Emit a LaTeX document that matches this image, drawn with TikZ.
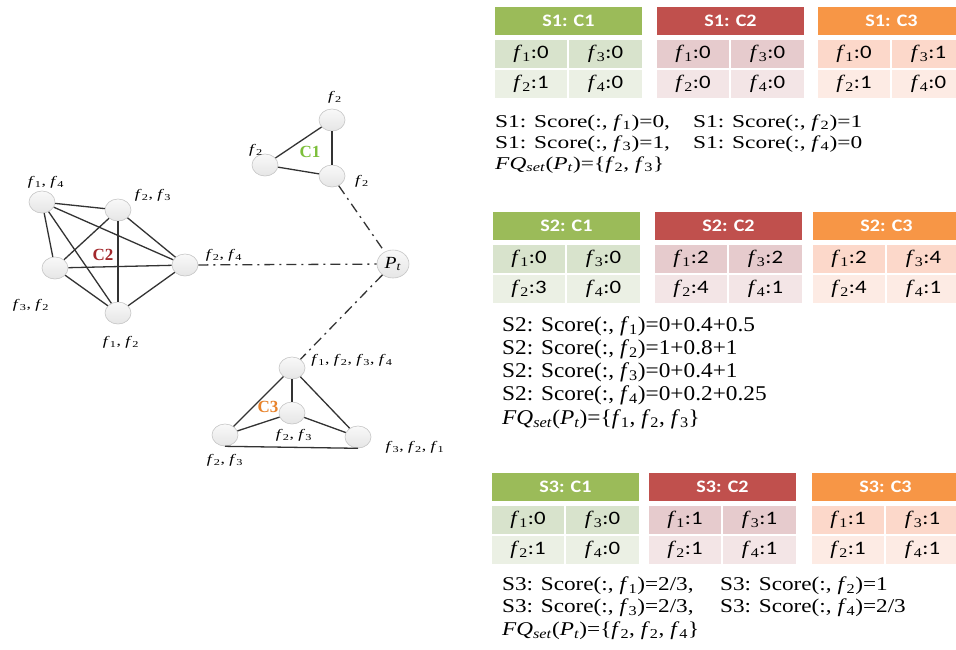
\documentclass[tikz,border=0pt]{standalone}
\usepackage{graphicx}
\usepackage{fontspec}
\setmainfont{Liberation Serif}
\newfontfamily\calfont{Carlito}
\usetikzlibrary{shapes.geometric}
\definecolor{gH}{HTML}{9BBB59}\definecolor{gA}{HTML}{D8E3CC}\definecolor{gB}{HTML}{EBF0E4}
\definecolor{rH}{HTML}{C0504D}\definecolor{rA}{HTML}{E6CBCD}\definecolor{rB}{HTML}{F3E5E6}
\definecolor{oH}{HTML}{F79646}\definecolor{oA}{HTML}{FCD8CA}\definecolor{oB}{HTML}{FDEBE4}
\definecolor{cone}{HTML}{7CBF3A}\definecolor{ctwo}{HTML}{A3282C}\definecolor{cthree}{HTML}{E8822A}
\newcommand\fv[1]{\textit{f}\textsubscript{#1}}
\newcommand\cf[2]{\textit{f}\textsubscript{#1}{\calfont :#2}}
\newcommand\FQ{\textit{FQ}\textsubscript{\textit{set}}(\textit{P}\textsubscript{\textit{t}})}
\newcommand\hs[2]{\scalebox{#1}[1]{#2}}
% name, x, y-top, colour prefix, header, f1, f3, f2, f4
\newcommand\tbl[9]{%
  \node[hdr, fill=#4H] (#1h) at (#2+73.5,#3+14) {\hs{1.15}{#5}};
  \node[cellL, fill=#4A] (#1a) at (#2+36,#3+47) {\hs{1.2}{\cf{1}{#6}}};
  \node[cellR, fill=#4A] (#1b) at (#2+110.5,#3+47) {\hs{1.2}{\cf{3}{#7}}};
  \node[cellL, fill=#4B] (#1c) at (#2+36,#3+77) {\hs{1.2}{\cf{2}{#8}}};
  \node[cellR, fill=#4B] (#1d) at (#2+110.5,#3+77) {\hs{1.2}{\cf{4}{#9}}};
}
\begin{document}
\begin{tikzpicture}[x=1pt,y=-1pt,
  hdr/.style={rectangle, minimum width=147pt, minimum height=28pt, inner sep=0pt, text=white, font=\calfont\bfseries\fontsize{17.5}{20}\selectfont},
  cellL/.style={rectangle, minimum width=72pt, minimum height=28pt, inner sep=0pt, font=\fontsize{19}{20}\selectfont},
  cellR/.style={rectangle, minimum width=73pt, minimum height=28pt, inner sep=0pt, font=\fontsize{19}{20}\selectfont},
  txtA/.style={anchor=base west, inner sep=0pt, font=\fontsize{18}{20}\selectfont},
  txtB/.style={anchor=base west, inner sep=0pt, font=\fontsize{21}{23}\selectfont},
  txtC/.style={anchor=base west, inner sep=0pt, font=\fontsize{19.5}{22}\selectfont},
  vtx/.style={ellipse, draw=gray!45, line width=0.6pt, top color=gray!5, bottom color=gray!20, minimum width=26pt, minimum height=22pt, inner sep=0pt},
  edge/.style={draw=black!80, line width=1.3pt},
  dd/.style={draw=black!80, line width=1.3pt, dash pattern=on 10pt off 5pt on 2pt off 5pt},
  lab/.style={inner sep=0pt, font=\fontsize{13}{15}\selectfont},
  clab/.style={inner sep=0pt, font=\bfseries\fontsize{17}{20}\selectfont}]
\useasboundingbox (0,0) rectangle (956,649);
\clip (0,0) rectangle (956,649);
\fill[white] (0,0) rectangle (956,649);

% ---------- tables ----------
\tbl{sA}{495}{7}{g}{S1: C1}{0}{0}{1}{0}
\tbl{sB}{657}{7}{r}{S1: C2}{0}{0}{0}{0}
\tbl{sC}{818}{7}{o}{S1: C3}{0}{1}{1}{0}
\tbl{tA}{493}{212}{g}{S2: C1}{0}{0}{3}{0}
\tbl{tB}{655}{212}{r}{S2: C2}{2}{2}{4}{1}
\tbl{tC}{813}{212}{o}{S2: C3}{2}{4}{4}{1}
\tbl{uA}{492}{473}{g}{S3: C1}{0}{0}{1}{0}
\tbl{uB}{649}{473}{r}{S3: C2}{1}{1}{1}{1}
\tbl{uC}{812}{473}{o}{S3: C3}{1}{1}{1}{1}

% ---------- score texts ----------
\node[txtA] (s1a) at (495,127) {\hs{1.3}{S1: Score(:, \fv{1})=0,}};
\node[txtA] (s1b) at (693,127) {\hs{1.3}{S1: Score(:, \fv{2})=1}};
\node[txtA] (s1c) at (495,148) {\hs{1.3}{S1: Score(:, \fv{3})=1,}};
\node[txtA] (s1d) at (693,148) {\hs{1.3}{S1: Score(:, \fv{4})=0}};
\node[txtA] (s1e) at (495,169) {\hs{1.3}{\FQ=\{\fv{2}, \fv{3}\}}};

\node[txtB] (s2a) at (502,331) {\hs{1.11}{S2: Score(:, \fv{1})=0+0.4+0.5}};
\node[txtB] (s2b) at (502,354) {\hs{1.11}{S2: Score(:, \fv{2})=1+0.8+1}};
\node[txtB] (s2c) at (502,377) {\hs{1.11}{S2: Score(:, \fv{3})=0+0.4+1}};
\node[txtB] (s2d) at (502,400) {\hs{1.11}{S2: Score(:, \fv{4})=0+0.2+0.25}};
\node[txtB] (s2e) at (502,424) {\hs{1.11}{\FQ=\{\fv{1}, \fv{2}, \fv{3}\}}};

\node[txtC] (s3a) at (502,590) {\hs{1.19}{S3: Score(:, \fv{1})=2/3,}};
\node[txtC] (s3b) at (720,590) {\hs{1.19}{S3: Score(:, \fv{2})=1}};
\node[txtC] (s3c) at (502,612) {\hs{1.19}{S3: Score(:, \fv{3})=2/3,}};
\node[txtC] (s3d) at (720,612) {\hs{1.19}{S3: Score(:, \fv{4})=2/3}};
\node[txtC] (s3e) at (502,635) {\hs{1.19}{\FQ=\{\fv{2}, \fv{2}, \fv{4}\}}};

% ---------- graph: nodes ----------
\node[vtx] (a1) at (332,120) {};
\node[vtx] (a2) at (265,165) {};
\node[vtx] (a3) at (332,176) {};
\node[vtx, minimum width=32pt, minimum height=28pt] (pt) at (393,264) {\fontsize{17}{18}\selectfont\hs{1.15}{\textit{P}\textsubscript{\textit{t}}}};

\node[vtx] (bA) at (42,202) {};
\node[vtx] (bB) at (118,210) {};
\node[vtx] (bC) at (55,268) {};
\node[vtx] (bD) at (185,265) {};
\node[vtx] (bE) at (118,313) {};

\node[vtx] (cT) at (292,368) {};
\node[vtx] (cM) at (292,413) {};
\node[vtx] (cL) at (225,435) {};
\node[vtx] (cR) at (358,437) {};

% ---------- graph: edges ----------
\draw[edge] (a1) -- (a2);
\draw[edge] (a1) -- (a3);
\draw[edge] (a2) -- (a3);

\draw[edge] (bA) -- (bB);
\draw[edge] (bA) -- (bC);
\draw[edge] (bA) -- (bD);
\draw[edge] (bA) -- (bE);
\draw[edge] (bB) -- (bC);
\draw[edge] (bB) -- (bD);
\draw[edge] (bB) -- (bE);
\draw[edge] (bC) -- (bD);
\draw[edge] (bC) -- (bE);
\draw[edge] (bD) -- (bE);

\draw[edge] (cT) -- (cL);
\draw[edge] (cT) -- (cR);
\draw[edge] (cT) -- (cM);
\draw[edge] (cM) -- (cL);
\draw[edge] (cM) -- (cR);
\draw[edge] (cL.south) -- (cR.south);

\draw[dd] (a3) -- (pt);
\draw[dd] (bD) -- (pt);
\draw[dd] (pt) -- (cT);

% ---------- graph: labels ----------
\node[lab] (l1) at (335,97) {\hs{1.35}{\fv{2}}};
\node[lab] (l2) at (256,150) {\hs{1.35}{\fv{2}}};
\node[lab] (l3) at (362,181) {\hs{1.35}{\fv{2}}};
\node[clab, text=cone] (k1) at (310,152) {C1};

\node[lab] (l4) at (46,182) {\hs{1.35}{\fv{1}, \fv{4}}};
\node[lab] (l5) at (153,195) {\hs{1.35}{\fv{2}, \fv{3}}};
\node[lab] (l6) at (31,305) {\hs{1.35}{\fv{3}, \fv{2}}};
\node[lab] (l7) at (121,342) {\hs{1.35}{\fv{1}, \fv{2}}};
\node[lab] (l8) at (224,255) {\hs{1.35}{\fv{2}, \fv{4}}};
\node[clab, text=ctwo] (k2) at (103,255) {C2};

\node[lab] (l9) at (352,360) {\hs{1.35}{\fv{1}, \fv{2}, \fv{3}, \fv{4}}};
\node[lab] (l10) at (294,435) {\hs{1.35}{\fv{2}, \fv{3}}};
\node[lab] (l11) at (225,460) {\hs{1.35}{\fv{2}, \fv{3}}};
\node[lab] (l12) at (415,447) {\hs{1.35}{\fv{3}, \fv{2}, \fv{1}}};
\node[clab, text=cthree] (k3) at (268,407) {C3};
\end{tikzpicture}
\end{document}
